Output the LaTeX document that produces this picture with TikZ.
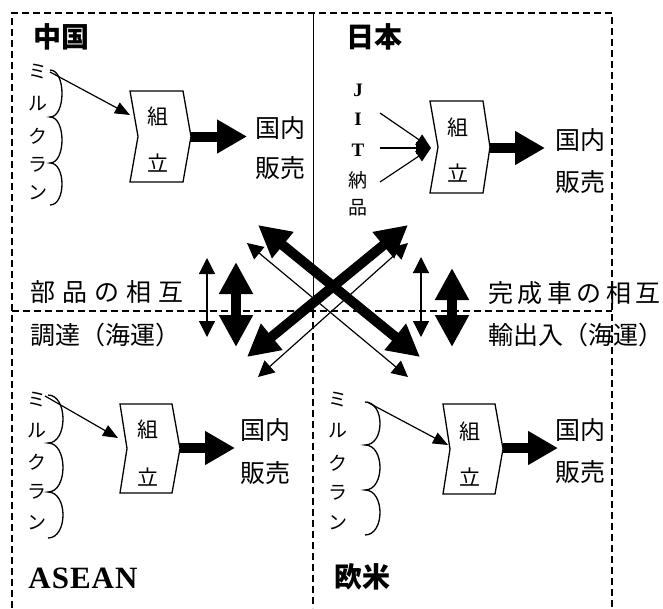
\documentclass[tikz,border=0pt]{standalone}
\usepackage{fontspec}
\setmainfont{Liberation Serif}
\newfontfamily\jp{Noto Sans CJK JP}
\usetikzlibrary{arrows.meta}
\begin{document}
\begin{tikzpicture}[x=1pt,y=-1pt,
  border/.style={line width=1.5pt, dash pattern=on 7pt off 4pt},
  boxline/.style={line width=1.3pt, line join=miter},
  thinarr/.style={line width=1.2pt, -{Triangle[width=12pt,length=15pt]}},
  bigarr/.style={line width=10pt, -{Triangle[width=32pt,length=30pt]}},
  thindbl/.style={line width=1.2pt, {Triangle[width=16pt,length=16pt]}-{Triangle[width=16pt,length=16pt]}},
  thickdbl/.style={line width=10pt, {Triangle[width=32pt,length=32pt]}-{Triangle[width=32pt,length=32pt]}},
  head/.style={font=\jp\bfseries\fontsize{28}{28}\selectfont, inner sep=0pt},
  lbl/.style={font=\jp\fontsize{25}{25}\selectfont, inner sep=0pt},
  kumi/.style={font=\jp\fontsize{21}{21}\selectfont, inner sep=0pt},
  vch/.style={font=\jp\fontsize{19}{19}\selectfont, inner sep=0pt},
  vlat/.style={font=\bfseries\fontsize{19}{19}\selectfont, inner sep=0pt},
  brace/.style={line width=1.3pt},
]
\useasboundingbox (0,0) rectangle (663,608);
% frame
\coordinate (TL) at (12,13); \coordinate (TR) at (612,13);
\coordinate (BL) at (12,608); \coordinate (BR) at (612,608);
\coordinate (ML) at (12,311); \coordinate (MR) at (612,311);
\coordinate (MT) at (313,13); \coordinate (MM) at (313,311); \coordinate (MB) at (313,608);
\draw[border] (BL) -- (TL) -- (TR) -- (BR);
\draw[border] (ML) -- (MR);
\draw[line width=1pt] (MT) -- (MM);
\draw[border] (MM) -- (MB);

% headings
\node[head] (cnH) at (61,37) {中国};
\node[head] (jpH) at (374,37) {日本};
\node[font=\bfseries\fontsize{31}{31}\selectfont, inner sep=0pt] (asH) at (83,578) {A\kern1pt S\kern1pt E\kern1pt A\kern1pt N};
\node[head] (euH) at (362,577) {欧米};

% ---------- China ----------
\foreach \c/\yy [count=\i] in {ミ/72,ル/104,ク/136,ラ/165,ン/193}
  \node[vch] (cnm\i) at (38,\yy) {\c};
\draw[brace] (50,70) .. controls (66,70) and (66,117) .. (50,117)
             .. controls (66,117) and (66,163) .. (50,163)
             .. controls (66,163) and (66,205) .. (50,205);
\coordinate (cnS) at (50,72); \coordinate (cnT) at (130,115);
\draw[thinarr] (cnS) -- (cnT);
\draw[boxline] (130,91) -- (183,91) -- (191,136.5) -- (183,182) -- (130,182) -- (138,136.5) -- cycle;
\coordinate (cnOut) at (191,136.5); \coordinate (cnE) at (247,136.5);
\node[kumi] (cnK1) at (158,117) {組};
\node[kumi] (cnK2) at (158,163) {立};
\draw[bigarr] (cnOut) -- (cnE);
\node[lbl] (cnL1) at (280,128) {国内};
\node[lbl] (cnL2) at (280,168) {販売};

% ---------- Japan ----------
\node[vlat] (jJ) at (358,90) {J};
\node[vlat] (jI) at (358,119) {I};
\node[vlat] (jT) at (358,150) {T};
\node[vch] (jN) at (358,180) {納};
\node[vch] (jHn) at (358,208) {品};
\coordinate (jS1) at (380,113); \coordinate (jS2) at (380,148); \coordinate (jS3) at (380,182);
\coordinate (jTip) at (431,148);
\draw[thinarr] (jS1) -- (jTip);
\draw[thinarr] (jS2) -- (jTip);
\draw[thinarr] (jS3) -- (jTip);
\draw[boxline] (430,101) -- (483,101) -- (490,147) -- (483,193) -- (430,193) -- (438,147) -- cycle;
\coordinate (jOut) at (490,148); \coordinate (jE) at (545,148);
\node[kumi] (jK1) at (458,128) {組};
\node[kumi] (jK2) at (458,173) {立};
\draw[bigarr] (jOut) -- (jE);
\node[lbl] (jL1) at (580,140) {国内};
\node[lbl] (jL2) at (580,182) {販売};

% ---------- ASEAN ----------
\foreach \c/\yy [count=\i] in {ミ/400,ル/431,ク/462,ラ/492,ン/523}
  \node[vch] (asm\i) at (37,\yy) {\c};
\draw[brace] (48,395) .. controls (68,395) and (68,443) .. (48,443)
             .. controls (68,443) and (68,492) .. (48,492)
             .. controls (68,492) and (68,538) .. (48,538);
\coordinate (asS) at (45,396); \coordinate (asT) at (118,438);
\draw[thinarr] (asS) -- (asT);
\draw[boxline] (120,404) -- (172,404) -- (180,448.5) -- (172,493) -- (120,493) -- (127,448.5) -- cycle;
\coordinate (asOut) at (180,448); \coordinate (asE) at (235,448);
\node[kumi] (asK1) at (148,430) {組};
\node[kumi] (asK2) at (148,477) {立};
\draw[bigarr] (asOut) -- (asE);
\node[lbl] (asL1) at (265,430) {国内};
\node[lbl] (asL2) at (265,473) {販売};

% ---------- Europe/US ----------
\foreach \c/\yy [count=\i] in {ミ/400,ル/431,ク/463,ラ/493,ン/523}
  \node[vch] (eum\i) at (338,\yy) {\c};
\draw[brace] (365,402) .. controls (385,402) and (385,445) .. (365,445)
             .. controls (385,445) and (385,490) .. (365,490)
             .. controls (385,490) and (385,535) .. (365,535);
\coordinate (euS) at (367,402); \coordinate (euT) at (448,445);
\draw[thinarr] (euS) -- (euT);
\draw[boxline] (443,404) -- (495,404) -- (503,449) -- (495,494) -- (443,494) -- (450,449) -- cycle;
\coordinate (euOut) at (503,448); \coordinate (euE) at (558,448);
\node[kumi] (euK1) at (470,432) {組};
\node[kumi] (euK2) at (470,477) {立};
\draw[bigarr] (euOut) -- (euE);
\node[lbl] (euL1) at (580,430) {国内};
\node[lbl] (euL2) at (580,472) {販売};

% ---------- middle labels ----------
\node[lbl, anchor=west] (buhin) at (30,292) {部\kern7pt 品\kern7pt の\kern7pt 相\kern7pt 互};
\node[lbl, anchor=west] (chotatsu) at (30,335) {調達（海運）};
\node[lbl, anchor=west] (kansei) at (488,293) {完\kern4.5pt 成\kern4.5pt 車\kern4.5pt の\kern4.5pt 相\kern4.5pt 互};
\node[lbl, anchor=west] (yushutsu) at (488,335) {輸出入（海運）};

% ---------- middle arrows ----------
\coordinate (lvT1) at (207,258); \coordinate (lvB1) at (207,337);
\coordinate (lvT2) at (236,262); \coordinate (lvB2) at (236,347);
\coordinate (rvT1) at (421,257); \coordinate (rvB1) at (421,337);
\coordinate (rvT2) at (452,268); \coordinate (rvB2) at (452,347);
\draw[thindbl] (lvT1) -- (lvB1);
\draw[thickdbl] (lvT2) -- (lvB2);
\draw[thindbl] (rvT1) -- (rvB1);
\draw[thickdbl] (rvT2) -- (rvB2);

\coordinate (dA1) at (247,243); \coordinate (dA2) at (408,377);
\coordinate (dB1) at (408,243); \coordinate (dB2) at (258,377);
\coordinate (dC1) at (258,225); \coordinate (dC2) at (420,357);
\coordinate (dD1) at (408,225); \coordinate (dD2) at (247,357);
\draw[thindbl] (dA1) -- (dA2);
\draw[thindbl] (dB1) -- (dB2);
\draw[thickdbl] (dC1) -- (dC2);
\draw[thickdbl] (dD1) -- (dD2);
\end{tikzpicture}
\end{document}
